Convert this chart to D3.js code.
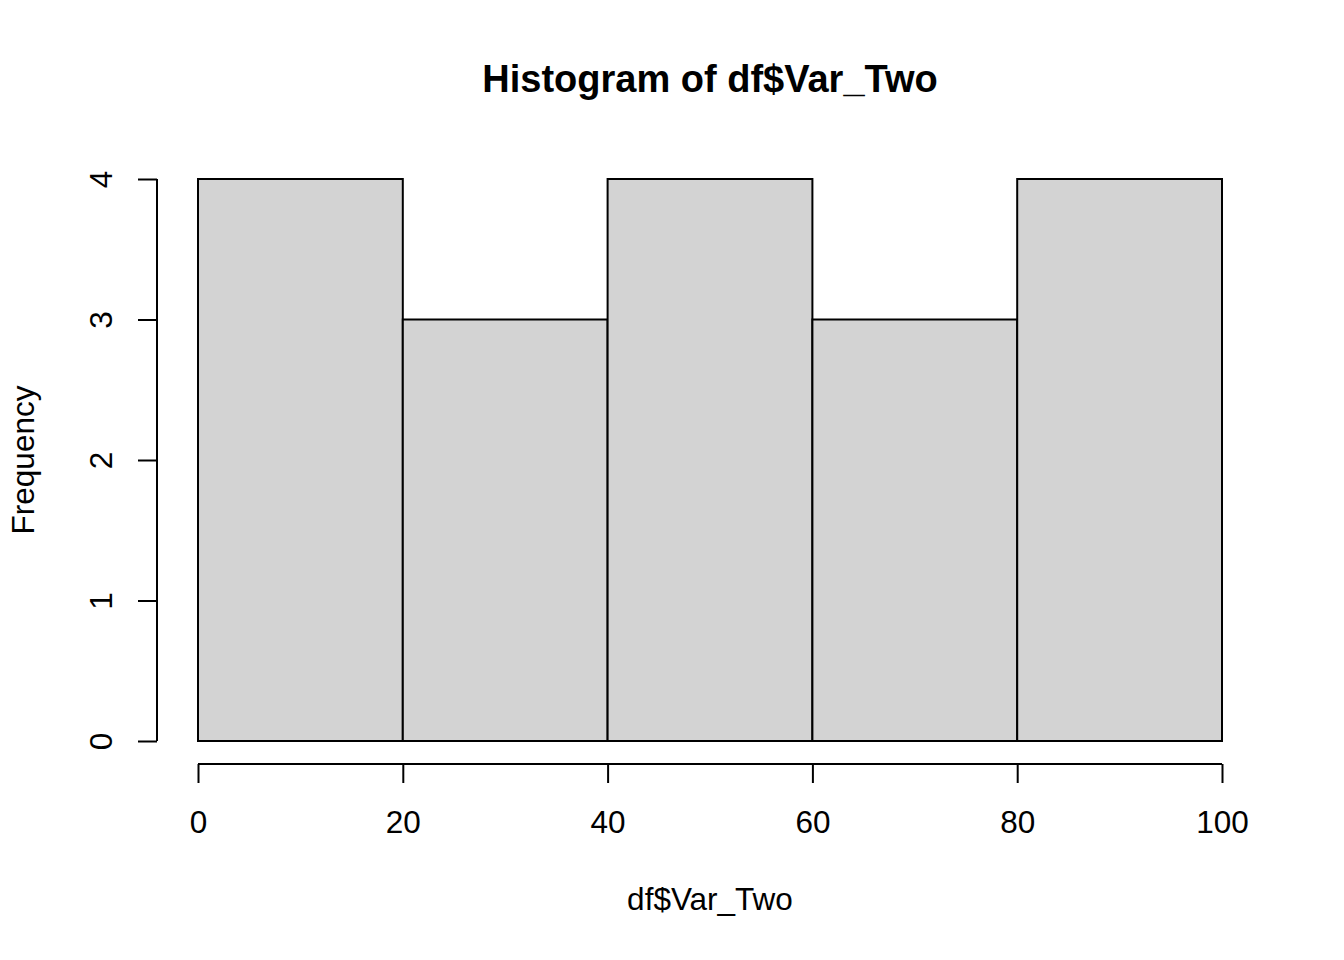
<!DOCTYPE html>
<html>
<head>
<meta charset="utf-8">
<script src="https://cdn.jsdelivr.net/npm/d3@7"></script>
<style>
html, body { margin: 0; padding: 0; background: #fff; }
svg { display: block; }
text { font-family: Arial, "Liberation Sans", sans-serif; fill: #000; }
</style>
</head>
<body>
<svg id="chart" width="1344" height="960"></svg>
<script>
// Data
const binStarts = [0, 20, 40, 60, 80];
const binEnds = [20, 40, 60, 80, 100];
const counts = [4, 3, 4, 3, 4];
const xTicks = [0, 20, 40, 60, 80, 100];
const yTicks = [0, 1, 2, 3, 4];
const titleText = "Histogram of df$Var_Two";
const xLabel = "df$Var_Two";
const yLabel = "Frequency";

const svg = d3.select("#chart");
const x = d3.scaleLinear().domain([0, 100]).range([198, 1222]);
const y = d3.scaleLinear().domain([0, 4]).range([741, 179]);
const FS = 31.5;

// bars
svg.append("g").selectAll("rect")
  .data(counts)
  .join("rect")
  .attr("x", (d, i) => x(binStarts[i]))
  .attr("y", d => y(d))
  .attr("width", (d, i) => x(binEnds[i]) - x(binStarts[i]))
  .attr("height", d => y(0) - y(d))
  .attr("fill", "#d3d3d3")
  .attr("stroke", "#000")
  .attr("stroke-width", 2);

// x axis
const xAxis = d3.axisBottom(x).tickValues(xTicks).tickFormat(d3.format("d")).tickSize(19).tickSizeOuter(0);
const gx = svg.append("g").attr("transform", "translate(0,764)").call(xAxis);
gx.select(".domain").attr("stroke-width", 2).attr("d", `M${x(0)},0H${x(100)}`);
gx.selectAll(".tick line").attr("stroke-width", 2);
gx.selectAll(".tick text").attr("font-size", FS).attr("font-family", "Arial, 'Liberation Sans', sans-serif").attr("dy", null).attr("y", 69);

// y axis
const yAxis = d3.axisLeft(y).tickValues(yTicks).tickFormat(d3.format("d")).tickSize(19).tickSizeOuter(0);
const gy = svg.append("g").attr("transform", "translate(157,0)").call(yAxis);
gy.select(".domain").attr("stroke-width", 2).attr("d", `M0,${y(0)}V${y(4)}`);
gy.selectAll(".tick line").attr("stroke-width", 2);
gy.selectAll(".tick text")
  .attr("font-size", FS)
  .attr("font-family", "Arial, 'Liberation Sans', sans-serif")
  .attr("x", null).attr("dy", null)
  .attr("text-anchor", "middle")
  .attr("transform", "translate(-45,0) rotate(-90)");

// title
svg.append("text")
  .attr("x", 710).attr("y", 92)
  .attr("text-anchor", "middle")
  .attr("font-size", 38)
  .attr("font-weight", "bold")
  .text(titleText);

// x label
svg.append("text")
  .attr("x", 710).attr("y", 910)
  .attr("text-anchor", "middle")
  .attr("font-size", FS)
  .text(xLabel);

// y label
svg.append("text")
  .attr("transform", "translate(34,460) rotate(-90)")
  .attr("text-anchor", "middle")
  .attr("font-size", FS)
  .text(yLabel);
</script>
</body>
</html>
